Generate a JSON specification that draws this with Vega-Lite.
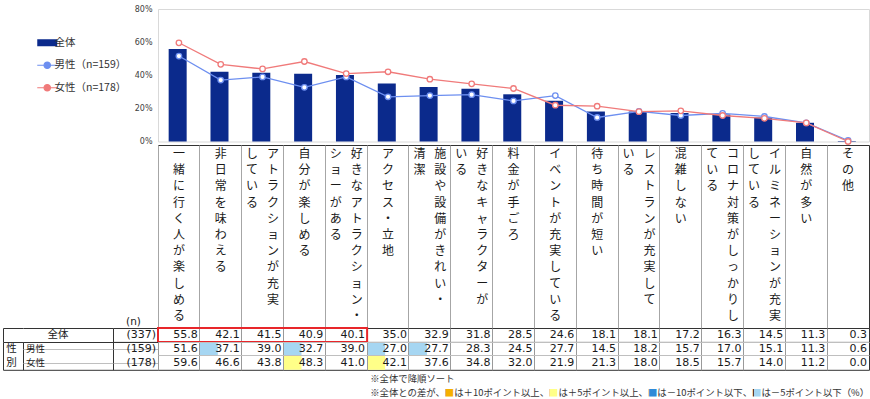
{
  "$schema": "https://vega.github.io/schema/vega-lite/v6.json",
  "padding": {"left": 0, "top": 4, "right": 0, "bottom": 0},
  "background": "white",
  "config": {"font": "Noto Sans CJK JP"},
  "datasets": {
    "cells": [
      {"item": "一緒に行く人が楽しめる", "group": "全体", "value": 55.8},
      {"item": "一緒に行く人が楽しめる", "group": "男性", "value": 51.6},
      {"item": "一緒に行く人が楽しめる", "group": "女性", "value": 59.6},
      {"item": "非日常を味わえる", "group": "全体", "value": 42.1},
      {"item": "非日常を味わえる", "group": "男性", "value": 37.1, "flag": "-5"},
      {"item": "非日常を味わえる", "group": "女性", "value": 46.6},
      {"item": "アトラクションが充実している", "group": "全体", "value": 41.5},
      {"item": "アトラクションが充実している", "group": "男性", "value": 39.0},
      {"item": "アトラクションが充実している", "group": "女性", "value": 43.8},
      {"item": "自分が楽しめる", "group": "全体", "value": 40.9},
      {"item": "自分が楽しめる", "group": "男性", "value": 32.7, "flag": "-5"},
      {"item": "自分が楽しめる", "group": "女性", "value": 48.3, "flag": "+5"},
      {"item": "好きなアトラクション・ショーがある", "group": "全体", "value": 40.1},
      {"item": "好きなアトラクション・ショーがある", "group": "男性", "value": 39.0},
      {"item": "好きなアトラクション・ショーがある", "group": "女性", "value": 41.0},
      {"item": "アクセス・立地", "group": "全体", "value": 35.0},
      {"item": "アクセス・立地", "group": "男性", "value": 27.0, "flag": "-5"},
      {"item": "アクセス・立地", "group": "女性", "value": 42.1, "flag": "+5"},
      {"item": "施設や設備がきれい・清潔", "group": "全体", "value": 32.9},
      {"item": "施設や設備がきれい・清潔", "group": "男性", "value": 27.7, "flag": "-5"},
      {"item": "施設や設備がきれい・清潔", "group": "女性", "value": 37.6},
      {"item": "好きなキャラクターがいる", "group": "全体", "value": 31.8},
      {"item": "好きなキャラクターがいる", "group": "男性", "value": 28.3},
      {"item": "好きなキャラクターがいる", "group": "女性", "value": 34.8},
      {"item": "料金が手ごろ", "group": "全体", "value": 28.5},
      {"item": "料金が手ごろ", "group": "男性", "value": 24.5},
      {"item": "料金が手ごろ", "group": "女性", "value": 32.0},
      {"item": "イベントが充実している", "group": "全体", "value": 24.6},
      {"item": "イベントが充実している", "group": "男性", "value": 27.7},
      {"item": "イベントが充実している", "group": "女性", "value": 21.9},
      {"item": "待ち時間が短い", "group": "全体", "value": 18.1},
      {"item": "待ち時間が短い", "group": "男性", "value": 14.5},
      {"item": "待ち時間が短い", "group": "女性", "value": 21.3},
      {"item": "レストランが充実している", "group": "全体", "value": 18.1},
      {"item": "レストランが充実している", "group": "男性", "value": 18.2},
      {"item": "レストランが充実している", "group": "女性", "value": 18.0},
      {"item": "混雑しない", "group": "全体", "value": 17.2},
      {"item": "混雑しない", "group": "男性", "value": 15.7},
      {"item": "混雑しない", "group": "女性", "value": 18.5},
      {"item": "コロナ対策がしっかりしている", "group": "全体", "value": 16.3},
      {"item": "コロナ対策がしっかりしている", "group": "男性", "value": 17.0},
      {"item": "コロナ対策がしっかりしている", "group": "女性", "value": 15.7},
      {"item": "イルミネーションが充実している", "group": "全体", "value": 14.5},
      {"item": "イルミネーションが充実している", "group": "男性", "value": 15.1},
      {"item": "イルミネーションが充実している", "group": "女性", "value": 14.0},
      {"item": "自然が多い", "group": "全体", "value": 11.3},
      {"item": "自然が多い", "group": "男性", "value": 11.3},
      {"item": "自然が多い", "group": "女性", "value": 11.2},
      {"item": "その他", "group": "全体", "value": 0.3},
      {"item": "その他", "group": "男性", "value": 0.6},
      {"item": "その他", "group": "女性", "value": 0.0}
    ],
    "labels": [
      {"item": "一緒に行く人が楽しめる", "part": "C", "text": "一緒に行く人が楽しめる"},
      {"item": "非日常を味わえる", "part": "C", "text": "非日常を味わえる"},
      {"item": "アトラクションが充実している", "part": "R", "text": "アトラクションが充実"},
      {"item": "アトラクションが充実している", "part": "L", "text": "している"},
      {"item": "自分が楽しめる", "part": "C", "text": "自分が楽しめる"},
      {"item": "好きなアトラクション・ショーがある", "part": "R", "text": "好きなアトラクション・"},
      {"item": "好きなアトラクション・ショーがある", "part": "L", "text": "ショーがある"},
      {"item": "アクセス・立地", "part": "C", "text": "アクセス・立地"},
      {"item": "施設や設備がきれい・清潔", "part": "R", "text": "施設や設備がきれい・"},
      {"item": "施設や設備がきれい・清潔", "part": "L", "text": "清潔"},
      {"item": "好きなキャラクターがいる", "part": "R", "text": "好きなキャラクターが"},
      {"item": "好きなキャラクターがいる", "part": "L", "text": "いる"},
      {"item": "料金が手ごろ", "part": "C", "text": "料金が手ごろ"},
      {"item": "イベントが充実している", "part": "C", "text": "イベントが充実している"},
      {"item": "待ち時間が短い", "part": "C", "text": "待ち時間が短い"},
      {"item": "レストランが充実している", "part": "R", "text": "レストランが充実して"},
      {"item": "レストランが充実している", "part": "L", "text": "いる"},
      {"item": "混雑しない", "part": "C", "text": "混雑しない"},
      {"item": "コロナ対策がしっかりしている", "part": "R", "text": "コロナ対策がしっかりし"},
      {"item": "コロナ対策がしっかりしている", "part": "L", "text": "ている"},
      {"item": "イルミネーションが充実している", "part": "R", "text": "イルミネーションが充実"},
      {"item": "イルミネーションが充実している", "part": "L", "text": "している"},
      {"item": "自然が多い", "part": "C", "text": "自然が多い"},
      {"item": "その他", "part": "C", "text": "その他"}
    ],
    "rows": [
      {"group": "全体", "n": "(337)"},
      {"group": "男性", "n": "(159)"},
      {"group": "女性", "n": "(178)"}
    ],
    "redbox": [
      {"from": "一緒に行く人が楽しめる", "to": "好きなアトラクション・ショーがある", "group": "全体"}
    ],
    "notes": [
      {"line": 1, "text": "※全体で降順ソート", "anchor": "アクセス・立地"},
      {"line": 2, "text": "※全体との差が、■は＋10ポイント以上、■は＋5ポイント以上、■は－10ポイント以下、■は－5ポイント以下（%）", "anchor": "アクセス・立地"}
    ]
  },
  "columns": 4,
  "spacing": 0,
  "bounds": "flush",
  "align": "each",
  "resolve": {"scale": {"color": "independent", "fill": "independent", "x": "independent", "y": "independent"}, "legend": {"color": "independent", "fill": "independent"}},
  "concat": [
    {"width": 20, "height": 135.5, "view": {"stroke": null}, "data": {"values": []}, "mark": "point", "encoding": {}},
    {"width": 90, "height": 135.5, "view": {"stroke": null}, "data": {"values": []}, "mark": "point", "encoding": {}},
    {"width": 45, "height": 135.5, "view": {"stroke": null}, "data": {"values": []}, "mark": "point", "encoding": {}},
    {
      "width": 711,
      "height": 132.5,
      "view": {"stroke": "#d9d9d9"},
      "data": {"name": "cells"},
      "encoding": {
        "x": {"field": "item", "type": "nominal", "scale": {"domain": ["一緒に行く人が楽しめる","非日常を味わえる","アトラクションが充実している","自分が楽しめる","好きなアトラクション・ショーがある","アクセス・立地","施設や設備がきれい・清潔","好きなキャラクターがいる","料金が手ごろ","イベントが充実している","待ち時間が短い","レストランが充実している","混雑しない","コロナ対策がしっかりしている","イルミネーションが充実している","自然が多い","その他"], "paddingInner": 0, "paddingOuter": 0}, "axis": null},
        "y": {"field": "value", "type": "quantitative", "scale": {"domain": [0, 80], "nice": false}, "axis": {"values": [0, 20, 40, 60, 80], "labelExpr": "datum.value + '%'", "title": null, "domain": false, "ticks": false, "tickSize": 0, "grid": false, "labelFont": "DejaVu Sans", "labelFontSize": 8, "labelColor": "#404040", "labelPadding": 6}},
        "color": {"field": "group", "type": "nominal", "scale": {"domain": ["全体", "男性", "女性"], "range": ["#0b2a8c", "#6d8ff0", "#f07a7a"]},
          "legend": {
            "orient": "none", "legendX": -116, "legendY": 28.5, "title": null, "padding": 0, "offset": 0,
            "labelExpr": "datum.value === '男性' ? '男性（n=159）' : datum.value === '女性' ? '女性（n=178）' : datum.value",
            "labelFont": "Noto Sans CJK JP", "labelFontSize": 10.5, "labelColor": "#333333", "labelOffset": 2, "rowPadding": 10.5, "symbolSize": 400, "labelLimit": 200,
            "encode": {"symbols": {"update": {
              "shape": {"signal": "datum.value === '全体' ? 'M-1,-0.35H1V0.35H-1Z' : 'M-1,0H-0.32M0.32,0H1M0.32,0A0.32,0.32 0 1 1 -0.32,0A0.32,0.32 0 1 1 0.32,0'"},
              "fill": {"signal": "datum.value === '全体' ? '#0b2a8c' : '#ffffff'"},
              "stroke": {"signal": "datum.value === '全体' ? '#0b2a8c' : datum.value === '男性' ? '#6d8ff0' : '#f07a7a'"},
              "strokeWidth": {"signal": "datum.value === '全体' ? 0 : 1.2"},
              "size": {"value": 400},
              "opacity": {"value": 1},
              "fillOpacity": {"value": 1},
              "strokeOpacity": {"value": 1}
            }}}
          }
        }
      },
      "layer": [
        {"transform": [{"filter": "datum.group === '全体'"}], "mark": {"type": "bar", "width": {"band": 0.49}}},
        {"transform": [{"filter": "datum.group !== '全体'"}], "mark": {"type": "line", "strokeWidth": 1.3}},
        {"transform": [{"filter": "datum.group !== '全体'"}], "mark": {"type": "point", "filled": false, "fill": "white", "fillOpacity": 1, "opacity": 1, "size": 30, "strokeWidth": 1.3}}
      ]
    },

    {"width": 20, "height": 183, "view": {"stroke": null}, "data": {"values": []}, "mark": "point", "encoding": {}},
    {"width": 90, "height": 183, "view": {"stroke": null}, "data": {"values": []}, "mark": "point", "encoding": {}},
    {
      "width": 45, "height": 183,
      "view": {"stroke": null},
      "data": {"values": [{"t": "(n)"}]},
      "mark": {"type": "text", "font": "DejaVu Sans", "fontSize": 10.5, "color": "#1a1a1a", "baseline": "bottom", "dx": -2, "dy": -1},
      "encoding": {
        "y": {"datum": 0, "type": "quantitative", "scale": {"domain": [0, 1]}, "axis": null},
        "text": {"field": "t"}
      }
    },
    {
      "width": 711, "height": 183,
      "view": {"stroke": "#333333"},
      "data": {"name": "labels"},
      "mark": {"type": "text", "font": "Noto Sans CJK JP", "fontSize": 12, "lineHeight": 16.2, "baseline": "line-top", "align": "center", "dy": 1, "color": "#1a1a1a", "lineBreak": {"expr": "regexp('(?!^)')"}},
      "encoding": {
        "x": {"field": "item", "type": "nominal", "scale": {"domain": ["一緒に行く人が楽しめる","非日常を味わえる","アトラクションが充実している","自分が楽しめる","好きなアトラクション・ショーがある","アクセス・立地","施設や設備がきれい・清潔","好きなキャラクターがいる","料金が手ごろ","イベントが充実している","待ち時間が短い","レストランが充実している","混雑しない","コロナ対策がしっかりしている","イルミネーションが充実している","自然が多い","その他"], "paddingInner": 0, "paddingOuter": 0}, "axis": {"grid": true, "bandPosition": 0, "labels": false, "ticks": false, "domain": false, "title": null, "gridColor": "#a6a6a6"}},
        "xOffset": {"field": "part", "type": "nominal", "scale": {"type": "point", "domain": ["L", "C", "R"], "padding": 1.79}},
        "y": {"datum": 1, "type": "quantitative", "scale": {"domain": [0, 1]}, "axis": null},
        "text": {"field": "text"}
      }
    },

    {
      "width": 20, "height": 13.9,
      "view": {"stroke": null},
      "data": {"values": [{"g": "全体"}]},
      "mark": {"type": "point", "opacity": 0},
      "encoding": {
        "x": {"datum": 0, "type": "quantitative", "scale": {"domain": [0, 1]}, "axis": {"orient": "top", "domain": true, "domainColor": "#333333", "labels": false, "ticks": false, "grid": false, "title": null}},
        "y": {"datum": 0, "type": "quantitative", "scale": {"domain": [0, 1]}, "axis": {"orient": "left", "domain": true, "domainColor": "#333333", "labels": false, "ticks": false, "grid": false, "title": null}}
      }
    },
    {
      "width": 90, "height": 13.9,
      "view": {"stroke": null},
      "data": {"name": "rows"},
      "transform": [{"filter": "datum.group === '全体'"}],
      "mark": {"type": "text", "font": "Noto Sans CJK JP", "fontSize": 10.5, "color": "#1a1a1a", "baseline": "middle", "dx": -10},
      "encoding": {
        "x": {"datum": 0.5, "type": "quantitative", "scale": {"domain": [0, 1]}, "axis": {"orient": "top", "domain": true, "domainColor": "#333333", "labels": false, "ticks": false, "grid": false, "title": null}},
        "text": {"field": "group"}
      }
    },
    {
      "width": 45, "height": 13.9,
      "view": {"stroke": "#333333"},
      "data": {"name": "rows"},
      "transform": [{"filter": "datum.group === '全体'"}],
      "mark": {"type": "text", "font": "DejaVu Sans", "fontSize": 11, "color": "#1a1a1a", "align": "right", "dx": -2, "baseline": "middle"},
      "encoding": {
        "x": {"datum": 1, "type": "quantitative", "scale": {"domain": [0, 1]}, "axis": null},
        "text": {"field": "n"}
      }
    },
    {
      "width": 711, "height": 13.9,
      "view": {"stroke": "#333333"},
      "encoding": {
        "x": {"field": "item", "type": "nominal", "scale": {"domain": ["一緒に行く人が楽しめる","非日常を味わえる","アトラクションが充実している","自分が楽しめる","好きなアトラクション・ショーがある","アクセス・立地","施設や設備がきれい・清潔","好きなキャラクターがいる","料金が手ごろ","イベントが充実している","待ち時間が短い","レストランが充実している","混雑しない","コロナ対策がしっかりしている","イルミネーションが充実している","自然が多い","その他"], "paddingInner": 0, "paddingOuter": 0}, "axis": {"grid": true, "bandPosition": 0, "labels": false, "ticks": false, "domain": false, "title": null, "gridColor": "#9a9a9a"}}
      },
      "layer": [
        {
          "data": {"name": "cells"},
          "transform": [{"filter": "datum.group === '全体'"}],
          "mark": {"type": "text", "font": "DejaVu Sans", "fontSize": 11, "color": "#1a1a1a", "align": "right", "dx": 18.9, "baseline": "middle"},
          "encoding": {"text": {"field": "value", "type": "quantitative", "format": ".1f"}}
        },
        {
          "data": {"name": "redbox"},
          "mark": {"type": "rect", "fill": null, "fillOpacity": 0, "stroke": "#e8262a", "strokeWidth": 2},
          "encoding": {
            "x": {"field": "from", "type": "nominal", "bandPosition": 0, "axis": {"grid": true, "bandPosition": 0, "labels": false, "ticks": false, "domain": false, "title": null, "gridColor": "#9a9a9a"}},
            "x2": {"field": "to", "bandPosition": 1}
          }
        }
      ]
    },

    {
      "width": 20, "height": 27.8,
      "view": {"stroke": "#333333"},
      "data": {"values": [{"t": "性別"}]},
      "mark": {"type": "text", "font": "Noto Sans CJK JP", "fontSize": 10.5, "color": "#1a1a1a", "baseline": "line-top", "lineHeight": 13.9, "dx": -1.5, "lineBreak": {"expr": "regexp('(?!^)')"}},
      "encoding": {
        "y": {"datum": 1, "type": "quantitative", "scale": {"domain": [0, 1]}, "axis": null},
        "text": {"field": "t"}
      }
    },
    {
      "width": 90, "height": 27.8,
      "view": {"stroke": "#333333"},
      "data": {"name": "rows"},
      "transform": [{"filter": "datum.group !== '全体'"}],
      "mark": {"type": "text", "font": "Noto Sans CJK JP", "fontSize": 9.5, "color": "#1a1a1a", "align": "left", "dx": 3, "baseline": "middle"},
      "encoding": {
        "x": {"datum": 0, "type": "quantitative", "scale": {"domain": [0, 1]}, "axis": null},
        "y": {"field": "group", "type": "nominal", "scale": {"domain": ["男性", "女性"], "paddingInner": 0, "paddingOuter": 0}, "axis": {"grid": true, "bandPosition": 0, "labels": false, "ticks": false, "domain": false, "title": null, "gridColor": "#bfbfbf"}},
        "text": {"field": "group"}
      }
    },
    {
      "width": 45, "height": 27.8,
      "view": {"stroke": "#333333"},
      "data": {"name": "rows"},
      "transform": [{"filter": "datum.group !== '全体'"}],
      "mark": {"type": "text", "font": "DejaVu Sans", "fontSize": 11, "color": "#1a1a1a", "align": "right", "dx": -2, "baseline": "middle"},
      "encoding": {
        "x": {"datum": 1, "type": "quantitative", "scale": {"domain": [0, 1]}, "axis": null},
        "y": {"field": "group", "type": "nominal", "scale": {"domain": ["男性", "女性"], "paddingInner": 0, "paddingOuter": 0}, "axis": {"grid": true, "bandPosition": 0, "labels": false, "ticks": false, "domain": false, "title": null, "gridColor": "#bfbfbf"}},
        "text": {"field": "n"}
      }
    },
    {
      "width": 711, "height": 27.8,
      "view": {"stroke": "#333333"},
      "data": {"name": "cells"},
      "transform": [{"filter": "datum.group !== '全体'"}],
      "encoding": {
        "x": {"field": "item", "type": "nominal", "scale": {"domain": ["一緒に行く人が楽しめる","非日常を味わえる","アトラクションが充実している","自分が楽しめる","好きなアトラクション・ショーがある","アクセス・立地","施設や設備がきれい・清潔","好きなキャラクターがいる","料金が手ごろ","イベントが充実している","待ち時間が短い","レストランが充実している","混雑しない","コロナ対策がしっかりしている","イルミネーションが充実している","自然が多い","その他"], "paddingInner": 0, "paddingOuter": 0}, "axis": {"grid": true, "bandPosition": 0, "labels": false, "ticks": false, "domain": false, "title": null, "gridColor": "#9a9a9a"}},
        "y": {"field": "group", "type": "nominal", "scale": {"domain": ["男性", "女性"], "paddingInner": 0, "paddingOuter": 0}, "axis": {"grid": true, "bandPosition": 0, "labels": false, "ticks": false, "domain": false, "title": null, "gridColor": "#bfbfbf"}}
      },
      "layer": [
        {
          "transform": [{"filter": {"field": "flag", "oneOf": ["+10", "+5", "-10", "-5"]}}],
          "mark": {"type": "rect"},
          "encoding": {"fill": {"field": "flag", "type": "nominal", "scale": {"domain": ["+10", "+5", "-10", "-5"], "range": ["#f5b000", "#ffff88", "#2e8ad8", "#a6d6f2"]}, "legend": null}}
        },
        {
          "mark": {"type": "text", "font": "DejaVu Sans", "fontSize": 11, "color": "#1a1a1a", "align": "right", "dx": 18.9, "baseline": "middle"},
          "encoding": {"text": {"field": "value", "type": "quantitative", "format": ".1f"}}
        }
      ]
    },

    {"width": 20, "height": 29, "view": {"stroke": null}, "data": {"values": []}, "mark": "point", "encoding": {}},
    {"width": 90, "height": 29, "view": {"stroke": null}, "data": {"values": []}, "mark": "point", "encoding": {}},
    {"width": 45, "height": 29, "view": {"stroke": null}, "data": {"values": []}, "mark": "point", "encoding": {}},
    {
      "width": 711, "height": 29,
      "view": {"stroke": null},
      "data": {"name": "notes"},
      "encoding": {
        "x": {"field": "anchor", "type": "nominal", "scale": {"domain": ["一緒に行く人が楽しめる","非日常を味わえる","アトラクションが充実している","自分が楽しめる","好きなアトラクション・ショーがある","アクセス・立地","施設や設備がきれい・清潔","好きなキャラクターがいる","料金が手ごろ","イベントが充実している","待ち時間が短い","レストランが充実している","混雑しない","コロナ対策がしっかりしている","イルミネーションが充実している","自然が多い","その他"], "paddingInner": 0, "paddingOuter": 0}, "axis": null},
        "y": {"field": "line", "type": "ordinal", "scale": {"paddingInner": 0, "paddingOuter": 0}, "axis": null},
        "text": {"field": "text"}
      },
      "layer": [
        {"transform": [{"filter": "datum.line === 1"}], "mark": {"type": "text", "align": "left", "baseline": "middle", "dx": -17.9, "dy": 1.5, "font": "Noto Sans CJK JP", "fontSize": 9.4, "fill": "#333333"}},
        {"transform": [{"filter": "datum.line === 2"}], "mark": {"type": "text", "align": "left", "baseline": "middle", "dx": -17.9, "dy": 1.5, "font": "Noto Sans CJK JP", "fontSize": 9.4,
          "fill": {"gradient": "linear", "x1": 0, "y1": 0, "x2": 1, "y2": 0, "stops": [
            {"offset": 0, "color": "#333333"},
            {"offset": 0.1524, "color": "#333333"},
            {"offset": 0.1524, "color": "#f5b000"},
            {"offset": 0.1674, "color": "#f5b000"},
            {"offset": 0.1674, "color": "#333333"},
            {"offset": 0.3612, "color": "#333333"},
            {"offset": 0.3612, "color": "#ffff88"},
            {"offset": 0.3763, "color": "#ffff88"},
            {"offset": 0.3763, "color": "#333333"},
            {"offset": 0.5597, "color": "#333333"},
            {"offset": 0.5597, "color": "#2e8ad8"},
            {"offset": 0.5748, "color": "#2e8ad8"},
            {"offset": 0.5748, "color": "#333333"},
            {"offset": 0.7686, "color": "#333333"},
            {"offset": 0.7686, "color": "#a6d6f2"},
            {"offset": 0.7836, "color": "#a6d6f2"},
            {"offset": 0.7836, "color": "#333333"},
            {"offset": 1, "color": "#333333"}
          ]}}}
      ]
    }
  ]
}
